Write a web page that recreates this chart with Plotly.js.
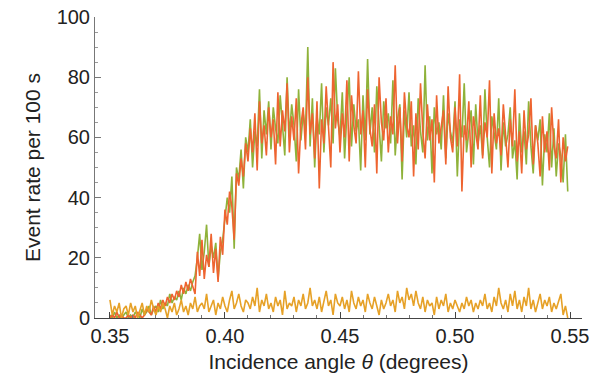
<!DOCTYPE html>
<html><head><meta charset="utf-8">
<script src="https://cdn.plot.ly/plotly-3.0.1.min.js"></script>
<style>body{margin:0;background:#fff}#c{width:597px;height:381px}</style>
</head><body><div id="c"></div>
<script>
const xStart = 0.35, xStep = 0.001;
const red = [
0,1,0,2,0,1,0,0,1,0, 1,0,2,1,0,1,3,2,1,4, 2,5,3,6,4,7,5,8,6,9,
7,11,8,12,9,13,10,8,22,14, 26,13,21,17,28,15,23,12,27,21, 36,31,42,37,26,48,44,53,47,58,
52,63,55,68,49,72,58,64,54,70, 60,66,51,75,57,69,62,78,55,67, 59,73,48,64,70,56,80,61,68,53,
72,43,66,58,77,62,50,85,63,71, 55,68,60,79,52,74,64,58,82,61, 69,50,76,63,57,71,48,80,65,59,
73,55,67,61,84,58,70,52,75,64, 60,72,47,68,56,78,62,53,71,59, 66,45,74,58,63,69,51,77,60,55,
70,57,81,42,64,59,72,50,67,61, 56,74,53,65,60,79,48,68,58,63, 54,71,59,50,66,57,76,52,62,48,
69,56,61,73,51,64,58,47,67,55, 62,49,70,57,53,66,45,60,52,57];
const green = [
1,0,2,0,1,0,1,2,0,1, 0,2,1,0,3,1,2,4,1,3, 4,2,6,3,5,4,8,5,7,6,
9,6,10,8,11,9,12,14,20,28, 16,22,31,17,24,20,25,13,22,26, 33,40,35,47,23,50,46,56,43,60,
55,66,50,62,57,76,53,69,61,72, 56,70,63,58,74,65,54,80,60,71, 64,52,76,59,68,62,90,57,73,50,
67,61,78,55,70,64,73,58,83,66, 60,75,53,68,80,57,71,62,66,49, 74,59,86,61,70,55,77,64,52,72,
63,68,58,79,54,66,71,46,69,60, 75,57,64,51,73,62,55,84,59,67, 48,70,61,65,56,74,53,68,62,58,
72,47,66,60,78,55,63,69,51,71, 58,64,54,76,60,50,67,62,56,73, 49,65,57,61,70,53,59,46,68,55,
62,51,72,57,48,64,59,66,44,61, 55,68,50,63,47,58,54,45,61,42];
const yellow = [
6,1,4,2,5,0,3,4,1,5, 2,4,0,3,5,1,4,2,6,3, 1,4,2,5,3,0,4,2,5,1,
3,6,2,4,1,5,3,7,2,4, 5,3,8,2,4,6,1,5,3,7, 4,2,6,9,3,5,8,4,2,6,
5,3,7,4,10,2,6,4,8,3, 5,2,7,4,6,1,9,3,5,4, 7,2,6,4,8,3,5,10,4,6,
3,7,2,5,9,4,6,1,8,5, 4,7,3,6,2,9,5,3,7,4, 6,2,8,5,3,7,4,1,6,3,
5,8,4,6,2,9,5,7,3,10, 6,8,4,9,5,3,7,2,6,4, 5,1,7,3,6,4,8,2,5,3,
6,4,2,5,3,7,4,6,2,5, 3,6,4,8,3,5,2,7,4,10, 5,3,6,2,8,4,9,3,6,2,
7,4,10,3,6,2,5,8,3,6, 4,7,2,5,3,6,8,1,4,0];
const xTicks = [0.35,0.40,0.45,0.50,0.55];
const xTickLabels = ["0.35","0.40","0.45","0.50","0.55"];
const yTicks = [0,20,40,60,80,100];

const xs = red.map((_, i) => +(xStart + i * xStep).toFixed(4));
const mk = (y, c) => ({x: xs, y: y, type: 'scatter', mode: 'lines', line: {color: c, width: 1.6}, hoverinfo: 'skip'});
const data = [mk(green, '#8fb23a'), mk(red, '#ee6430'), mk(yellow, '#e6a127')];
const FAM = 'Liberation Sans, Arial, sans-serif';
const tickFont = {family: FAM, size: 20, color: '#222'};
const titleFont = {family: FAM, size: 21, color: '#222'};
const layout = {
  width: 597, height: 381, showlegend: false,
  paper_bgcolor: '#fff', plot_bgcolor: '#fff',
  margin: {l: 95, r: 15, t: 17, b: 63},
  xaxis: {range: [0.3435, 0.5552], tickvals: xTicks, ticktext: xTickLabels,
    ticks: 'inside', ticklen: 6, tickcolor: '#444', showline: true, linecolor: '#444', linewidth: 1,
    showgrid: false, zeroline: false, tickfont: tickFont,
    minor: {dtick: 0.01, tick0: 0.35, ticks: 'inside', ticklen: 3, tickcolor: '#777', showgrid: false},
    title: {text: 'Incidence angle <i>θ</i> (degrees)', font: titleFont, standoff: 8}},
  yaxis: {range: [0, 100], tickvals: yTicks, ticks: 'inside', ticklen: 6, tickcolor: '#777',
    showline: true, linecolor: '#777', linewidth: 1, showgrid: false, zeroline: false, tickfont: tickFont,
    minor: {dtick: 5, tick0: 0, ticks: 'inside', ticklen: 3, tickcolor: '#999', showgrid: false},
    title: {text: 'Event rate per 100 s', font: titleFont, standoff: 10}}
};
Plotly.newPlot('c', data, layout, {staticPlot: true});
</script></body></html>
